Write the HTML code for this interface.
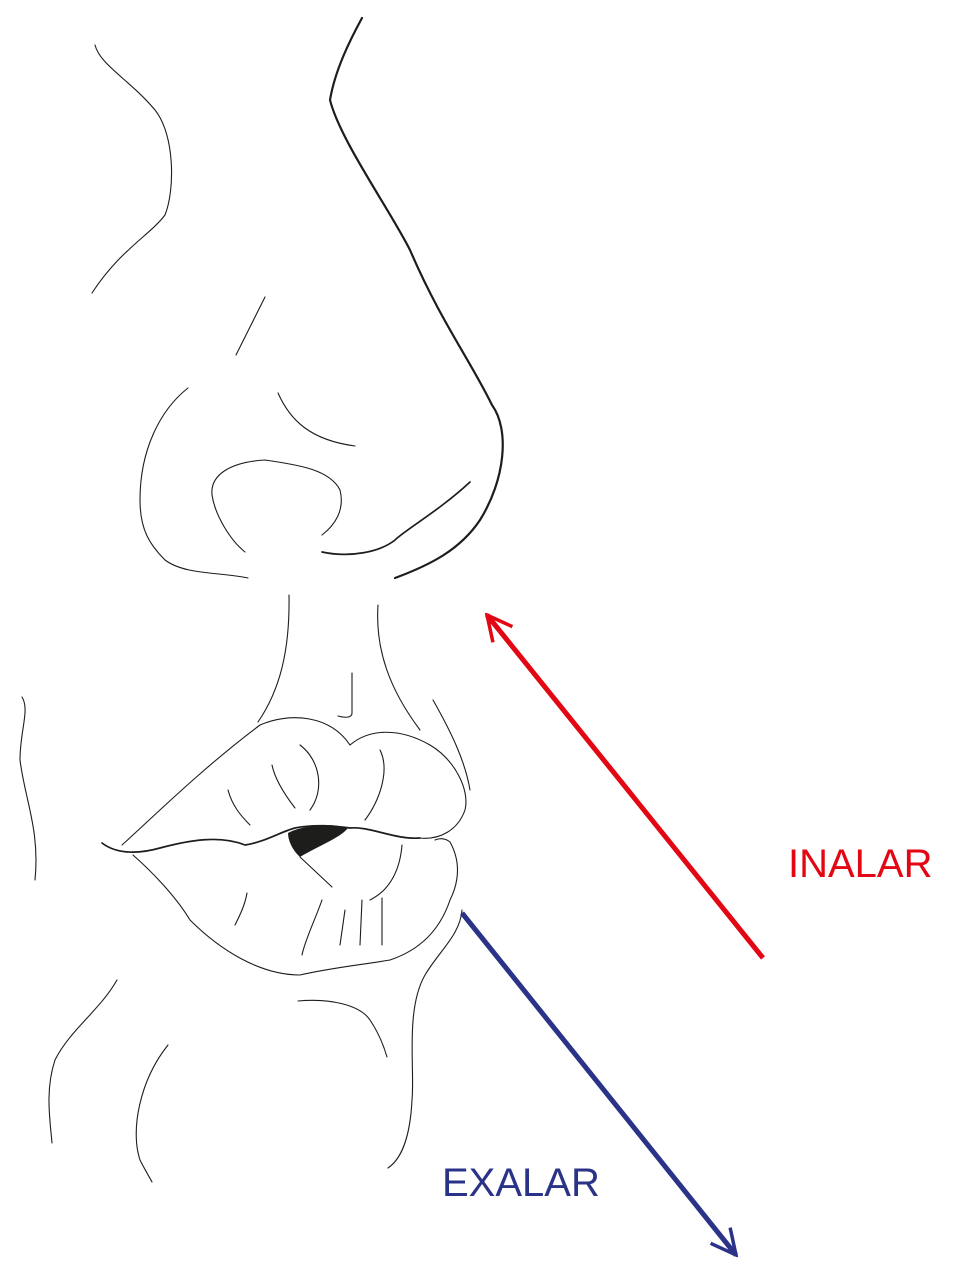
<!DOCTYPE html>
<html>
<head>
<meta charset="utf-8">
<style>
  html,body{margin:0;padding:0;background:#fff;}
  svg{display:block;}
  .thin{fill:none;stroke:#1d1d1b;stroke-width:1.1;stroke-linecap:round;}
  .thick{fill:none;stroke:#1d1d1b;stroke-width:2.2;stroke-linecap:round;}
  .mid{fill:none;stroke:#1d1d1b;stroke-width:1.7;stroke-linecap:round;}
</style>
</head>
<body>
<svg width="960" height="1280" viewBox="0 0 960 1280">
  <defs>
    <marker id="ah-red" viewBox="0 0 12 12" refX="11" refY="6" markerWidth="6" markerHeight="6" orient="auto" markerUnits="strokeWidth">
      <path d="M1,1 L11,6 L1,11" fill="none" stroke="#e30613" stroke-width="1.4"/>
    </marker>
    <marker id="ah-blue" viewBox="0 0 12 12" refX="11" refY="6" markerWidth="6" markerHeight="6" orient="auto" markerUnits="strokeWidth">
      <path d="M1,1 L11,6 L1,11" fill="none" stroke="#2b3388" stroke-width="1.4"/>
    </marker>
  </defs>

  <g>
    <path class="thick" d="M362,18 C350,40 335,70 330,100 C340,140 390,210 410,250 C440,320 470,360 492,405 C510,430 505,480 480,520 C460,550 430,565 395,578"/>
    <path class="mid" d="M322,552 C350,558 380,552 395,540 C405,530 440,510 470,482"/>
    <path class="thin" d="M95,45 C100,65 130,80 155,110 C175,135 175,190 165,215 C150,235 120,250 92,293"/>
    <path class="thin" d="M265,297 L236,355"/>
    <path class="thin" d="M188,388 C160,410 140,450 140,500 C140,530 150,545 165,560 C185,575 220,572 248,578"/>
    <path class="thin" d="M278,393 C290,420 310,440 355,446"/>
    <path class="thin" d="M245,552 C230,540 215,515 212,495 C210,475 230,462 265,460 C300,465 330,470 340,490 C345,510 335,525 322,535"/>
    <path class="thin" d="M289,595 C290,650 280,690 258,722"/>
    <path class="thin" d="M378,605 C375,650 390,690 420,730"/>
    <path class="thin" d="M352,673 L352,713 C352,718 345,718 338,716"/>
    <path class="thin" d="M433,700 C450,730 465,760 470,790"/>
    <path class="thin" d="M122,845 C150,820 200,770 260,725 C290,712 330,715 350,745 C370,728 400,728 430,745 C455,760 470,790 465,810 C458,830 440,840 420,838"/>
    <path class="mid" d="M102,843 C115,853 135,855 160,848 C190,840 220,835 245,845 C265,842 280,832 295,828 C315,824 335,826 350,828 C370,826 395,840 420,838"/>
    <path d="M288,833 C300,826 330,822 348,828 C340,838 320,845 300,857 C292,850 288,840 288,833 Z" fill="#1d1d1b"/>
    <path class="thin" d="M300,857 L332,887"/>
    <path class="thin" d="M272,765 C275,780 285,795 295,808"/>
    <path class="thin" d="M300,745 C320,760 325,790 310,810"/>
    <path class="thin" d="M228,790 C232,805 240,815 250,825"/>
    <path class="thin" d="M380,750 C390,770 380,800 365,820"/>
    <path class="thin" d="M133,855 C150,870 175,895 190,920 C220,950 260,975 300,975 C330,968 360,965 390,960 C420,950 440,930 450,900 C460,880 460,860 450,842 C445,838 440,838 435,840"/>
    <path class="thin" d="M247,893 C245,905 240,915 235,925"/>
    <path class="thin" d="M322,900 C315,920 305,940 302,955"/>
    <path class="thin" d="M345,910 L340,945"/>
    <path class="thin" d="M362,900 L360,945"/>
    <path class="thin" d="M382,898 L382,945"/>
    <path class="thin" d="M402,845 C400,870 390,890 370,900"/>
    <path class="thin" d="M462,910 C460,935 440,950 425,975 C405,1010 415,1070 412,1100 C410,1140 400,1160 388,1168"/>
    <path class="thin" d="M298,1001 C330,998 360,1005 370,1020 C380,1035 385,1050 387,1057"/>
    <path class="thin" d="M22,697 C30,710 20,730 20,760 C25,800 40,830 35,880"/>
    <path class="thin" d="M117,980 C100,1010 70,1030 55,1060 C45,1090 50,1120 52,1143"/>
    <path class="thin" d="M168,1045 C140,1080 130,1130 140,1160 C145,1170 150,1178 152,1182"/>
  </g>

  <line x1="763" y1="958" x2="487" y2="615" stroke="#e30613" stroke-width="5" marker-end="url(#ah-red)"/>
  <line x1="462" y1="913" x2="736" y2="1255" stroke="#2b3388" stroke-width="5" marker-end="url(#ah-blue)"/>

  <text x="788" y="877" font-family="Liberation Sans, sans-serif" font-size="40" fill="#e30613">INALAR</text>
  <text x="442" y="1196" font-family="Liberation Sans, sans-serif" font-size="40" fill="#2b3388">EXALAR</text>
</svg>
</body>
</html>
